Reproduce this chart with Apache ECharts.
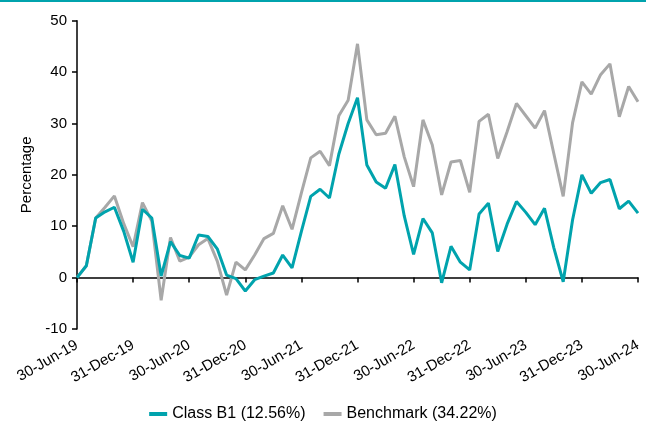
<!DOCTYPE html>
<html>
<head>
<meta charset="utf-8">
<script src="https://cdn.jsdelivr.net/npm/echarts@6/dist/echarts.min.js"></script>
<style>html,body{margin:0;padding:0;background:#fff}#c{width:646px;height:423px}</style>
</head>
<body>
<div id="c"></div>
<script>
const categories = [
'30-Jun-19','31-Jul-19','31-Aug-19','30-Sep-19','31-Oct-19','30-Nov-19','31-Dec-19',
'31-Jan-20','29-Feb-20','31-Mar-20','30-Apr-20','31-May-20','30-Jun-20',
'31-Jul-20','31-Aug-20','30-Sep-20','31-Oct-20','30-Nov-20','31-Dec-20',
'31-Jan-21','28-Feb-21','31-Mar-21','30-Apr-21','31-May-21','30-Jun-21',
'31-Jul-21','31-Aug-21','30-Sep-21','31-Oct-21','30-Nov-21','31-Dec-21',
'31-Jan-22','28-Feb-22','31-Mar-22','30-Apr-22','31-May-22','30-Jun-22',
'31-Jul-22','31-Aug-22','30-Sep-22','31-Oct-22','30-Nov-22','31-Dec-22',
'31-Jan-23','28-Feb-23','31-Mar-23','30-Apr-23','31-May-23','30-Jun-23',
'31-Jul-23','31-Aug-23','30-Sep-23','31-Oct-23','30-Nov-23','31-Dec-23',
'31-Jan-24','29-Feb-24','31-Mar-24','30-Apr-24','31-May-24','30-Jun-24'
];
const classB1 = [
0, 2.3, 11.6, 12.8, 13.7, 9.0, 3.0,
13.3, 11.6, 0.3, 7.0, 4.3, 3.8,
8.3, 8.0, 5.6, 0.5, -0.2, -2.6,
-0.4, 0.3, 0.9, 4.4, 1.9, 9.0,
15.8, 17.2, 15.5, 24.0, 30.0, 35.0,
21.9, 18.6, 17.4, 22.0, 12.0, 4.5,
11.5, 8.7, -1.0, 6.1, 3.0, 1.5,
12.4, 14.5, 5.1, 10.4, 14.8, 12.7,
10.3, 13.5, 5.8, -0.8, 11.2, 20.0,
16.4, 18.5, 19.1, 13.4, 14.9, 12.56
];
const benchmark = [
0, 2.3, 11.6, 13.7, 15.9, 10.5, 6.0,
14.6, 11.0, -4.4, 7.8, 3.2, 4.0,
6.4, 7.6, 3.2, -3.4, 3.0, 1.5,
4.4, 7.6, 8.6, 14.0, 9.4, 16.5,
23.3, 24.6, 21.8, 31.5, 34.5, 45.5,
30.7, 27.8, 28.1, 31.4, 23.5, 17.7,
30.7, 25.8, 16.1, 22.5, 22.8, 16.6,
30.4, 31.8, 23.2, 28.4, 33.9, 31.5,
29.1, 32.5, 24.1, 15.8, 30.1, 38.1,
35.7, 39.5, 41.6, 31.3, 37.2, 34.22
];
const yTicks = { min: -10, max: 50, interval: 10 };
const seriesNames = ['Class B1 (12.56%)', 'Benchmark (34.22%)'];

const TEAL = '#00A3AD';
const GREY = '#A8A8A8';
const FONT = 'Liberation Sans, Arial, sans-serif';
const chart = echarts.init(document.getElementById('c'), null, { renderer: 'canvas' });
chart.setOption({
  animation: false,
  textStyle: { fontFamily: FONT, color: '#000' },
  graphic: [{ type: 'rect', left: 0, top: 0, shape: { width: 646, height: 2 }, style: { fill: TEAL } }],
  grid: { left: 77, right: 8, top: 20.7, bottom: 94 },
  legend: {
    top: 401, left: 'center', icon: 'rect', itemWidth: 18, itemHeight: 4, itemGap: 18,
    textStyle: { fontSize: 16, color: '#000', fontFamily: FONT },
    data: seriesNames
  },
  xAxis: [{
    type: 'category', data: categories, boundaryGap: false, position: 'bottom',
    axisLine: { show: false, onZero: false }, axisTick: { show: false },
    axisLabel: { interval: 5, rotate: 30, margin: 15, fontSize: 15, color: '#000', fontFamily: FONT }
  }, {
    type: 'category', data: categories, boundaryGap: false, position: 'bottom',
    axisLine: { show: true, onZero: true, lineStyle: { color: '#000', width: 1.5 } },
    axisTick: { show: true, interval: 5, length: 5, lineStyle: { color: '#000', width: 1.5 } },
    axisLabel: { show: false }
  }],
  yAxis: {
    type: 'value', min: yTicks.min, max: yTicks.max, interval: yTicks.interval,
    name: 'Percentage', nameLocation: 'middle', nameGap: 37, nameRotate: 90,
    nameTextStyle: { fontSize: 15, color: '#000', fontFamily: FONT },
    axisLine: { show: true, lineStyle: { color: '#000', width: 1.5 } },
    axisTick: { show: true, length: 5, lineStyle: { color: '#000', width: 1.5 } },
    axisLabel: { fontSize: 15, color: '#000', margin: 10, fontFamily: FONT },
    splitLine: { show: false }
  },
  series: [
    { name: seriesNames[0], type: 'line', data: classB1, xAxisIndex: 0, symbol: 'none', z: 4,
      lineStyle: { color: TEAL, width: 3 }, itemStyle: { color: TEAL } },
    { name: seriesNames[1], type: 'line', data: benchmark, xAxisIndex: 0, symbol: 'none', z: 3,
      lineStyle: { color: GREY, width: 3 }, itemStyle: { color: GREY } }
  ]
});
</script>
</body>
</html>
